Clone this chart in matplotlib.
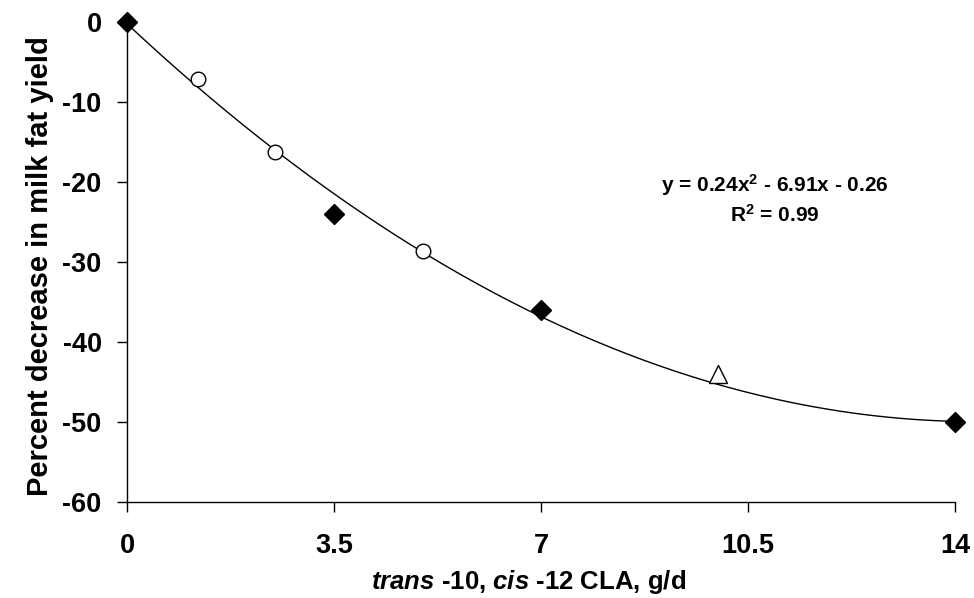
import matplotlib
matplotlib.use("Agg")
import matplotlib.pyplot as plt
import numpy as np

plt.rcParams['font.family'] = ['Liberation Sans', 'DejaVu Sans']
plt.rcParams['font.weight'] = 'bold'
plt.rcParams['mathtext.fontset'] = 'custom'
plt.rcParams['mathtext.rm'] = 'Liberation Sans:bold'
plt.rcParams['mathtext.bf'] = 'Liberation Sans:bold'
plt.rcParams['mathtext.it'] = 'Liberation Sans:italic:bold'

# Data
diamond_x = [0, 3.5, 7, 14]
diamond_y = [0, -24, -36, -50]
circle_x = [1.2, 2.5, 5]
circle_y = [-7.1, -16.3, -28.7]
triangle_x = [10]
triangle_y = [-44]

fit_coeffs = [0.24, -6.91, -0.26]   # quadratic trendline shown on chart
r_squared = 0.99

x_ticks = [0, 3.5, 7, 10.5, 14]
x_tick_labels = ['0', '3.5', '7', '10.5', '14']
y_ticks = [0, -10, -20, -30, -40, -50, -60]

fig = plt.figure(figsize=(9.74, 5.98), dpi=100)
ax = fig.add_axes([127/974, 96.3/598, (955-127)/974, (501.7-21.7)/598])

xs = np.linspace(0, 14, 200)
ax.plot(xs, np.polyval(fit_coeffs, xs), color='black', lw=1.0, zorder=2)

ax.plot(diamond_x, diamond_y, linestyle='none', marker='D', ms=10,
        color='black', clip_on=False, zorder=3)
ax.plot(circle_x, circle_y, linestyle='none', marker='o', ms=10.5,
        mfc='white', mec='black', mew=1.0, clip_on=False, zorder=3)
ax.plot(triangle_x, triangle_y, linestyle='none', marker='^', ms=12.5,
        mfc='white', mec='black', mew=1.0, clip_on=False, zorder=3)

ax.set_xlim(0, 14)
ax.set_ylim(-60, 0)
ax.set_xticks(x_ticks)
ax.set_xticklabels(x_tick_labels)
ax.set_yticks(y_ticks)
ax.set_yticklabels([str(v) for v in y_ticks])

for s in ['top', 'right']:
    ax.spines[s].set_visible(False)
for s in ['left', 'bottom']:
    ax.spines[s].set_linewidth(1.0)

ax.tick_params(axis='both', direction='out', length=7.2, width=1.0,
               labelsize=19.5)
ax.tick_params(axis='y', pad=11)
ax.tick_params(axis='x', pad=15.5)
for lab in ax.get_xticklabels() + ax.get_yticklabels():
    lab.set_fontweight('bold')

ax.set_ylabel('Percent decrease in milk fat yield', fontsize=21,
              fontweight='bold', labelpad=6)
ax.yaxis.label.set_y(0.49)
ax.set_xlabel(r'$\it{trans}$ -10, $\it{cis}$ -12 CLA, g/d', fontsize=18.5,
              fontweight='bold', labelpad=6)
ax.xaxis.label.set_x(0.485)

a, b, c = fit_coeffs
eq = (f'y = {a:.2f}x$^{{2}}$ - {abs(b):.2f}x - {abs(c):.2f}')
ax.text(10.96, -20.4, eq, ha='center', va='center', fontsize=15,
        fontweight='bold')
ax.text(10.96, -24.2, f'R$^{{2}}$ = {r_squared:.2f}', ha='center',
        va='center', fontsize=15, fontweight='bold')

fig.savefig('out.png', dpi=100)
